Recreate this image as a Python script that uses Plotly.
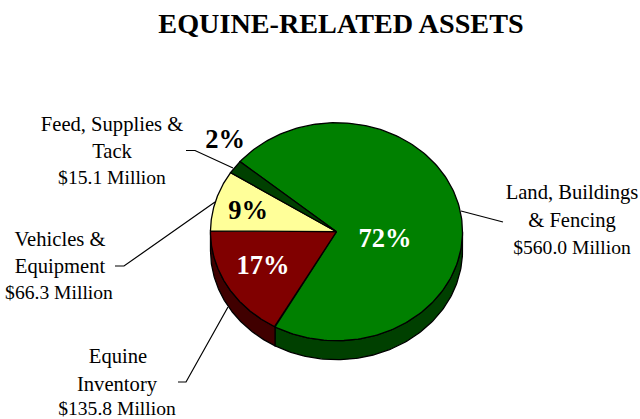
import numpy as np
import plotly.graph_objects as go

categories = ["Land, Buildings & Fencing", "Equine Inventory", "Vehicles & Equipment", "Feed, Supplies & Tack"]
dollars_text = ["$560.0 Million", "$135.8 Million", "$66.3 Million", "$15.1 Million"]
shares = [72, 17, 9, 2]
top_colors = ["#008000", "#800000", "#FFFF99", "#004000"]
side_colors = ["#004000", "#400000", "#808040", "#002000"]
pct_text_colors = ["white", "white", "black", "black"]

CX, CY, RX, RY, DEPTH = 336.5, 231.7, 126, 109, 19
START = 310.0
FONT = "Liberation Serif"

def pt(a, dy=0.0):
    r = np.radians(a)
    return CX + RX * np.sin(r), CY - RY * np.cos(r) + dy

fig = go.Figure()
angles = START + np.cumsum([0] + shares) * 3.6

# side walls (visible front half only: 90..270 deg clockwise from top)
for i in range(len(shares)):
    for k in (0, 360):
        a0 = max(angles[i] - k, 90)
        a1 = min(angles[i + 1] - k, 270)
        if a1 <= a0:
            continue
        t = np.linspace(a0, a1, 120)
        x1, y1 = pt(t)
        x2, y2 = pt(t[::-1], DEPTH)
        fig.add_trace(go.Scatter(x=np.r_[x1, x2, x1[0]], y=np.r_[y1, y2, y1[0]], mode="lines",
                                 fill="toself", fillcolor=side_colors[i],
                                 line=dict(color="black", width=1.3), hoverinfo="skip", showlegend=False))

# top faces
for i in range(len(shares)):
    t = np.linspace(angles[i], angles[i + 1], 200)
    x1, y1 = pt(t)
    fig.add_trace(go.Scatter(x=np.r_[CX, x1, CX], y=np.r_[CY, y1, CY], mode="lines",
                             fill="toself", fillcolor=top_colors[i],
                             line=dict(color="black", width=1.3), name=categories[i],
                             hoverinfo="skip", showlegend=False))

# leader lines
leaders = [
    ([461, 490, 503], [211, 219, 222]),
    ([178, 186, 228], [382, 382, 307]),
    ([115, 124, 215], [266, 266, 202]),
    ([186, 195, 233], [150.5, 150.5, 168]),
]
for lx, ly in leaders:
    fig.add_trace(go.Scatter(x=lx, y=ly, mode="lines", line=dict(color="black", width=1.2),
                             hoverinfo="skip", showlegend=False))

# percent labels
pct_x = [385, 263, 248, 225]
pct_y = [240, 267, 212, 141]
fig.add_trace(go.Scatter(x=pct_x, y=pct_y, mode="text", text=[f"<b>{s}%</b>" for s in shares],
                         textposition="middle center",
                         textfont=dict(family=FONT, size=26.5, color=pct_text_colors),
                         hoverinfo="skip", showlegend=False))

# category labels, one text line at a time
label_lines = ["Land, Buildings", "& Fencing", dollars_text[0],
               "Equine", "Inventory", dollars_text[1],
               "Vehicles &", "Equipment", dollars_text[2],
               "Feed, Supplies &", "Tack", dollars_text[3]]
label_x = [572, 572, 572, 118, 117, 117, 60, 60, 59, 112, 112, 112]
label_y = [193.5, 221.5, 249.5, 357.5, 385.5, 410.5, 240.5, 267.5, 294.5, 125.5, 152.5, 179.5]
label_sizes = [20.6, 20.6, 19.6, 20.6, 20.6, 19.6, 20.6, 20.6, 19.6, 20.6, 20.6, 19.6]
fig.add_trace(go.Scatter(x=label_x, y=label_y, mode="text", text=label_lines,
                         textposition="middle center",
                         textfont=dict(family=FONT, size=label_sizes, color="black"),
                         hoverinfo="skip", showlegend=False))

# title
fig.add_trace(go.Scatter(x=[341], y=[26], mode="text", text=["<b>EQUINE-RELATED ASSETS</b>"],
                         textposition="middle center",
                         textfont=dict(family=FONT, size=28.2, color="black"),
                         hoverinfo="skip", showlegend=False))

axis = dict(visible=False, fixedrange=True)
fig.update_layout(width=640, height=419, autosize=False,
                  margin=dict(l=0, r=0, t=0, b=0),
                  paper_bgcolor="white", plot_bgcolor="white",
                  xaxis=dict(range=[0, 640], **axis),
                  yaxis=dict(range=[419, 0], **axis))
fig.write_html("out.html", config=dict(displayModeBar=False),
               post_script="document.body.style.margin='0';document.body.style.overflow='hidden';")
